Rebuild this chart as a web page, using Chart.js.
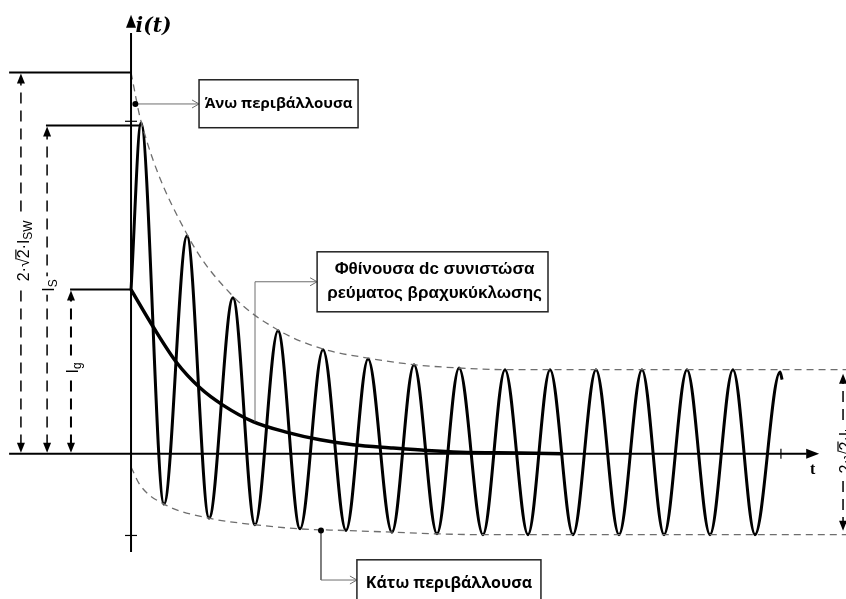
<!DOCTYPE html>
<html>
<head>
<meta charset="utf-8">
<script src="https://cdn.jsdelivr.net/npm/chart.js@4.4.1/dist/chart.umd.min.js"></script>
<style>
  html, body { margin: 0; padding: 0; background: #fff; }
  #wrap { width: 846px; height: 599px; }
</style>
</head>
<body>
<div id="wrap"><canvas id="kurzschluss" width="846" height="599"></canvas></div>
<script>
// t in ms (50 Hz, one period = 20 ms), i in units of the steady-state peak
const tRange = [-57.6, 314.3];
const iRange = [-1.76, 5.50];

// short-circuit current: start point, then peaks and troughs
const waveT = [0, 4.4, 14.5, 24.6, 34.3, 44.8, 54.5, 64.6, 74.3, 84.4, 94.5, 104.2, 114.7,
  124.4, 134.5, 144.2, 154.7, 164.4, 174.5, 184.2, 194.3, 204.4, 214.5, 224.6, 234.3,
  244.4, 254.5, 264.6, 274.3, 285.3, 286.2];
const waveI = [1.99, 4.01, -0.61, 2.64, -0.78, 1.89, -0.86, 1.49, -0.91, 1.26, -0.93, 1.15, -0.95,
  1.08, -0.97, 1.04, -0.98, 1.02, -0.98, 1.02, -0.98, 1.02, -0.98, 1.02, -0.98,
  1.02, -0.98, 1.02, -0.98, 0.99, 0.90];

// decaying dc component
const dcT = [0, 9.7, 20.2, 30.3, 40.4, 53.6, 68.6, 83.1, 97.6, 115.2, 130.1, 144.6, 171.0, 190.0];
const dcI = [1.99, 1.54, 1.10, 0.80, 0.59, 0.39, 0.26, 0.17, 0.11, 0.07, 0.04, 0.02, 0.01, 0.0];

// upper and lower envelopes
const upperT = [0, 4.4, 24.6, 44.8, 64.6, 84.4, 104.2, 124.4, 144.2, 164.4, 314.3];
const upperI = [4.62, 4.03, 2.66, 1.91, 1.50, 1.27, 1.16, 1.08, 1.04, 1.02, 1.02];
const lowerT = [0, 4.0, 14.5, 34.3, 54.5, 74.3, 94.5, 114.7, 134.5, 154.7, 314.3];
const lowerI = [-0.16, -0.38, -0.61, -0.78, -0.86, -0.91, -0.93, -0.95, -0.97, -0.98, -0.98];

// characteristic levels
const iSW = 4.62;              // 2·√2·I_SW
const iS = 3.98;               // I_S
const iG = 1.99;               // I_g
const iKtop = 1.02, iKbot = -0.98;

// where the dimension arrows stand (t)
const dimT = [-48.4, -36.9, -26.4, 313.0];

const pts = (ts, is) => ts.map((t, k) => ({ x: t, y: is[k] }));
const seg = (t0, i0, t1, i1) => [{ x: t0, y: i0 }, { x: t1, y: i1 }];

function solid(data, w) {
  return { data, showLine: true, borderColor: '#000', borderWidth: w, pointRadius: 0 };
}
function dashed(data, color, w, dash) {
  return { data, showLine: true, borderColor: color, borderWidth: w, borderDash: dash, pointRadius: 0 };
}
function curve(data, color, w, dash) {
  return { data, showLine: true, borderColor: color, borderWidth: w, borderDash: dash || [],
    pointRadius: 0, cubicInterpolationMode: 'monotone' };
}

const GREY = '#6e6e6e';

const datasets = [
  solid(seg(-53.6, 0, 297, 0), 2),             // t axis
  solid(seg(0, -1.19, 0, 5.1), 2),             // i axis
  solid(seg(-53.6, iSW, 0, iSW), 2),
  solid(seg(-37.4, iS, waveT[1], iS), 2),
  solid(seg(-26.8, iG, 0, iG), 2),
  curve(pts(upperT, upperI), GREY, 1.3, [7, 5]),
  curve(pts(lowerT, lowerI), GREY, 1.3, [7, 5]),
  dashed(seg(dimT[0], 0.1, dimT[0], iSW - 0.1), '#000', 1.5, [11, 7]),
  dashed(seg(dimT[1], 0.1, dimT[1], iS - 0.1), '#000', 1.5, [11, 7]),
  dashed(seg(dimT[2], 0.1, dimT[2], iG - 0.1), '#000', 2, [11, 7]),
  dashed(seg(dimT[3], iKbot + 0.08, dimT[3], iKtop - 0.08), '#000', 1.5, [11, 7]),
  // leaders to the text boxes
  solid([{ x: 1.9, y: 4.24 }, { x: 29.9, y: 4.24 }], 1),
  solid([{ x: 54.5, y: 0.39 }, { x: 54.5, y: 2.085 }, { x: 81.8, y: 2.085 }], 1),
  solid([{ x: 83.5, y: -0.93 }, { x: 83.5, y: -1.53 }, { x: 99.3, y: -1.53 }], 1),
  curve(pts(dcT, dcI), '#000', 3.5),
  curve(pts(waveT, waveI), '#000', 3)
];
// leaders are grey
[11, 12, 13].forEach(k => { datasets[k].borderColor = GREY; });

function arrow(ctx, x, y, dx, dy, len, half, open) {
  const nx = -dy, ny = dx;
  const bx = x - dx * len, by = y - dy * len;
  ctx.beginPath();
  ctx.moveTo(bx + nx * half, by + ny * half);
  ctx.lineTo(x, y);
  ctx.lineTo(bx - nx * half, by - ny * half);
  if (open) { ctx.stroke(); } else { ctx.closePath(); ctx.fill(); }
}

// text made of pieces (normal / subscript / overlined), optionally rotated
function richText(ctx, cx, cy, parts, size, rotate) {
  const big = size + 'px "Liberation Sans"';
  const small = Math.round(size * 0.72) + 'px "Liberation Sans"';
  let w = 0;
  parts.forEach(p => { ctx.font = p.sub ? small : big; p.w = ctx.measureText(p.s).width; w += p.w; });
  ctx.save();
  ctx.translate(cx, cy);
  if (rotate) ctx.rotate(-Math.PI / 2);
  ctx.fillStyle = '#fff';
  ctx.fillRect(-w / 2 - 3, -size * 0.6, w + 6, size * 1.3);
  ctx.fillStyle = '#000';
  ctx.strokeStyle = '#000';
  ctx.lineWidth = 1.2;
  ctx.textBaseline = 'alphabetic';
  ctx.textAlign = 'left';
  let x = -w / 2;
  const base = size * 0.36;
  parts.forEach(p => {
    ctx.font = p.sub ? small : big;
    ctx.fillText(p.s, x, p.sub ? base + size * 0.22 : base);
    if (p.over) {
      ctx.beginPath();
      ctx.moveTo(x - 1, base - size * 0.8);
      ctx.lineTo(x + p.w, base - size * 0.8);
      ctx.stroke();
    }
    x += p.w;
  });
  ctx.restore();
}

const decorations = {
  id: 'decorations',
  afterDatasetsDraw(chart) {
    const ctx = chart.ctx;
    const X = v => chart.scales.x.getPixelForValue(v);
    const Y = v => chart.scales.y.getPixelForValue(v);
    ctx.save();

    // axis arrows and ticks
    ctx.fillStyle = '#000';
    arrow(ctx, X(0), Y(5.32), 0, -1, 13, 5);
    arrow(ctx, X(302.5), Y(0), 1, 0, 13, 5);
    ctx.strokeStyle = '#000';
    ctx.lineWidth = 1.2;
    [[285.7, 0, 'v'], [0, -0.99, 'h'], [0, 4.03, 'h']].forEach(([t, i, o]) => {
      ctx.beginPath();
      if (o === 'v') { ctx.moveTo(X(t), Y(i) - 5); ctx.lineTo(X(t), Y(i) + 5); }
      else { ctx.moveTo(X(t) - 6, Y(i)); ctx.lineTo(X(t) + 6, Y(i)); }
      ctx.stroke();
    });

    // dimension arrowheads
    [[dimT[0], iSW], [dimT[1], iS], [dimT[2], iG]].forEach(([t, top]) => {
      arrow(ctx, X(t), Y(top) + 1, 0, -1, 10, 4);
      arrow(ctx, X(t), Y(0) - 1, 0, 1, 10, 4);
    });
    arrow(ctx, X(dimT[3]), Y(iKtop) + 4, 0, -1, 10, 4);
    arrow(ctx, X(dimT[3]), Y(iKbot) - 4, 0, 1, 10, 4);

    // dimension labels
    richText(ctx, X(dimT[0]) + 2, Y(2.46),
      [{ s: '2·√' }, { s: '2', over: true }, { s: '·I' }, { s: 'SW', sub: true }], 16, true);
    richText(ctx, X(dimT[1]) + 1, Y(2.04), [{ s: 'I' }, { s: 'S', sub: true }], 16, true);
    richText(ctx, X(dimT[2]) + 1, Y(1.04), [{ s: 'I' }, { s: 'g', sub: true }], 16, true);
    richText(ctx, X(dimT[3]) + 2, Y(0.05),
      [{ s: '2·√' }, { s: '2', over: true }, { s: '·I' }, { s: 'k', sub: true }], 16, true);

    // leader dots and arrowheads
    ctx.beginPath(); ctx.arc(X(1.9), Y(4.24), 3, 0, 2 * Math.PI); ctx.fill();
    ctx.beginPath(); ctx.arc(X(83.5), Y(-0.93), 3, 0, 2 * Math.PI); ctx.fill();
    ctx.strokeStyle = GREY;
    ctx.lineWidth = 1;
    arrow(ctx, X(29.9), Y(4.24), 1, 0, 7, 4, true);
    arrow(ctx, X(81.8), Y(2.085), 1, 0, 7, 4, true);
    arrow(ctx, X(99.3), Y(-1.53), 1, 0, 7, 4, true);

    // text boxes
    const boxes = [
      { t0: 29.9, t1: 99.8, i0: 4.533, i1: 3.952, lines: ['Άνω περιβάλλουσα'], font: 'bold 15px "Open Sans"' },
      { t0: 81.8, t1: 183.3, i0: 2.448, i1: 1.721, lines: ['Φθίνουσα dc συνιστώσα', 'ρεύματος βραχυκύκλωσης'], font: 'bold 17px "Liberation Sans"' },
      { t0: 99.3, t1: 180.2, i0: -1.285, i1: -1.85, lines: ['Κάτω περιβάλλουσα'], font: 'bold 16px "Open Sans"' }
    ];
    boxes.forEach(b => {
      const x0 = X(b.t0), x1 = X(b.t1), y0 = Y(b.i0), y1 = Y(b.i1);
      ctx.fillStyle = '#fff';
      ctx.fillRect(x0, y0, x1 - x0, y1 - y0);
      ctx.strokeStyle = '#222';
      ctx.lineWidth = 1.5;
      ctx.strokeRect(x0, y0, x1 - x0, y1 - y0);
      ctx.fillStyle = '#000';
      ctx.font = b.font;
      ctx.textAlign = 'center';
      ctx.textBaseline = 'middle';
      const cx = (x0 + x1) / 2 + (b.lines.length > 1 ? 2 : 0);
      const top = b.lines.length === 1 ? Math.min(y0 + 24, (y0 + y1) / 2) : y0 + 18;
      b.lines.forEach((s, k) => ctx.fillText(s, cx, top + k * 24));
    });

    // axis names
    ctx.fillStyle = '#000';
    ctx.textAlign = 'left';
    ctx.textBaseline = 'middle';
    ctx.font = 'italic bold 20px "DejaVu Serif"';
    ctx.fillText('i(t)', X(2.0), Y(5.18));
    ctx.font = 'bold 16px "Liberation Serif"';
    ctx.fillText('t', X(298.5), Y(-0.2));
    ctx.restore();
  }
};

Chart.defaults.font.family = '"Liberation Sans", sans-serif';

new Chart('kurzschluss', {
  type: 'scatter',
  data: { datasets },
  options: {
    responsive: false,
    animation: false,
    devicePixelRatio: 1,
    layout: { padding: 0 },
    plugins: { legend: { display: false }, tooltip: { enabled: false } },
    scales: {
      x: { type: 'linear', min: tRange[0], max: tRange[1], display: false },
      y: { type: 'linear', min: iRange[0], max: iRange[1], display: false }
    }
  },
  plugins: [decorations]
});
</script>
</body>
</html>
